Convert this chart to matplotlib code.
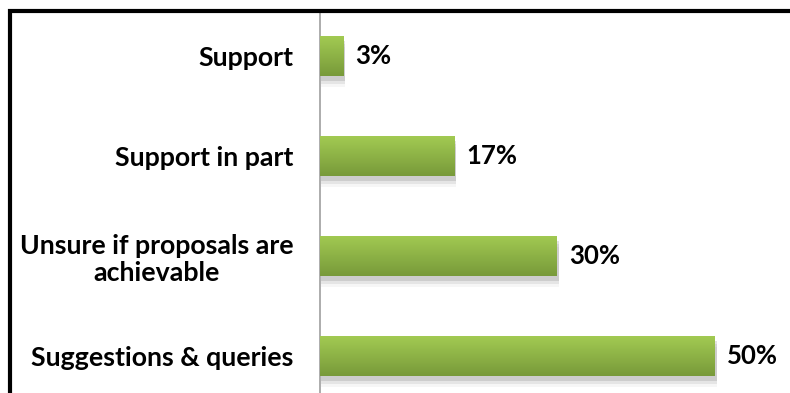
import numpy as np
import matplotlib.pyplot as plt
from matplotlib.colors import LinearSegmentedColormap
from matplotlib.patches import Rectangle

categories = ['Support', 'Support in part', 'Unsure if proposals are\nachievable', 'Suggestions & queries']
values = [3, 17, 30, 50]
value_labels = ['3%', '17%', '30%', '50%']

plt.rcParams['font.family'] = ['Lato', 'DejaVu Sans']

fig = plt.figure(figsize=(7.9, 3.93), dpi=100)
ax = fig.add_axes([320 / 790, 0, 470 / 790, 381 / 393])

# green gradient, lighter on top
green = LinearSegmentedColormap.from_list('green', ['#a2ca52', '#789a3a'])
grad = np.linspace(0, 1, 64).reshape(-1, 1)

ypos = np.arange(len(values))
h = 0.4
for y, v, lab in zip(ypos, values, value_labels):
    # soft shadow under the bar
    for k, a in zip([0.05, 0.08, 0.11], [0.16, 0.1, 0.05]):
        ax.add_patch(Rectangle((0.1, y - h / 2 + k), v + 0.1, h, color='#555555',
                               alpha=a, lw=0, zorder=1))
    bar = ax.barh(y, v, height=h, color='#8db346', zorder=2)[0]
    im = ax.imshow(grad, cmap=green, extent=[0, v, y + h / 2, y - h / 2],
                   aspect='auto', zorder=3, interpolation='bicubic')
    im.set_clip_path(bar)
    ax.text(v + 1.5, y, lab, va='center', ha='left', fontsize=18.5,
            fontweight='bold', color='black', zorder=4)

ax.set_xlim(0, 59.5)
ax.set_ylim(3.37, -0.44)
ax.set_yticks(ypos)
ax.set_yticklabels(categories, fontsize=19.3, fontweight='bold',
                   multialignment='center', linespacing=1.15)
ax.tick_params(axis='y', length=0, pad=19)
ax.set_xticks([])
for s in ['top', 'right', 'bottom']:
    ax.spines[s].set_visible(False)
ax.spines['left'].set_color('#a6a6a6')
ax.spines['left'].set_linewidth(1.3)

# outer frame: top and left edges
fig.add_artist(Rectangle((9.5 / 790, -0.1), 2, 1.1 - 10.5 / 393,
                         transform=fig.transFigure, fill=False, ec='black', lw=3))

fig.savefig('out.png', dpi=100)
